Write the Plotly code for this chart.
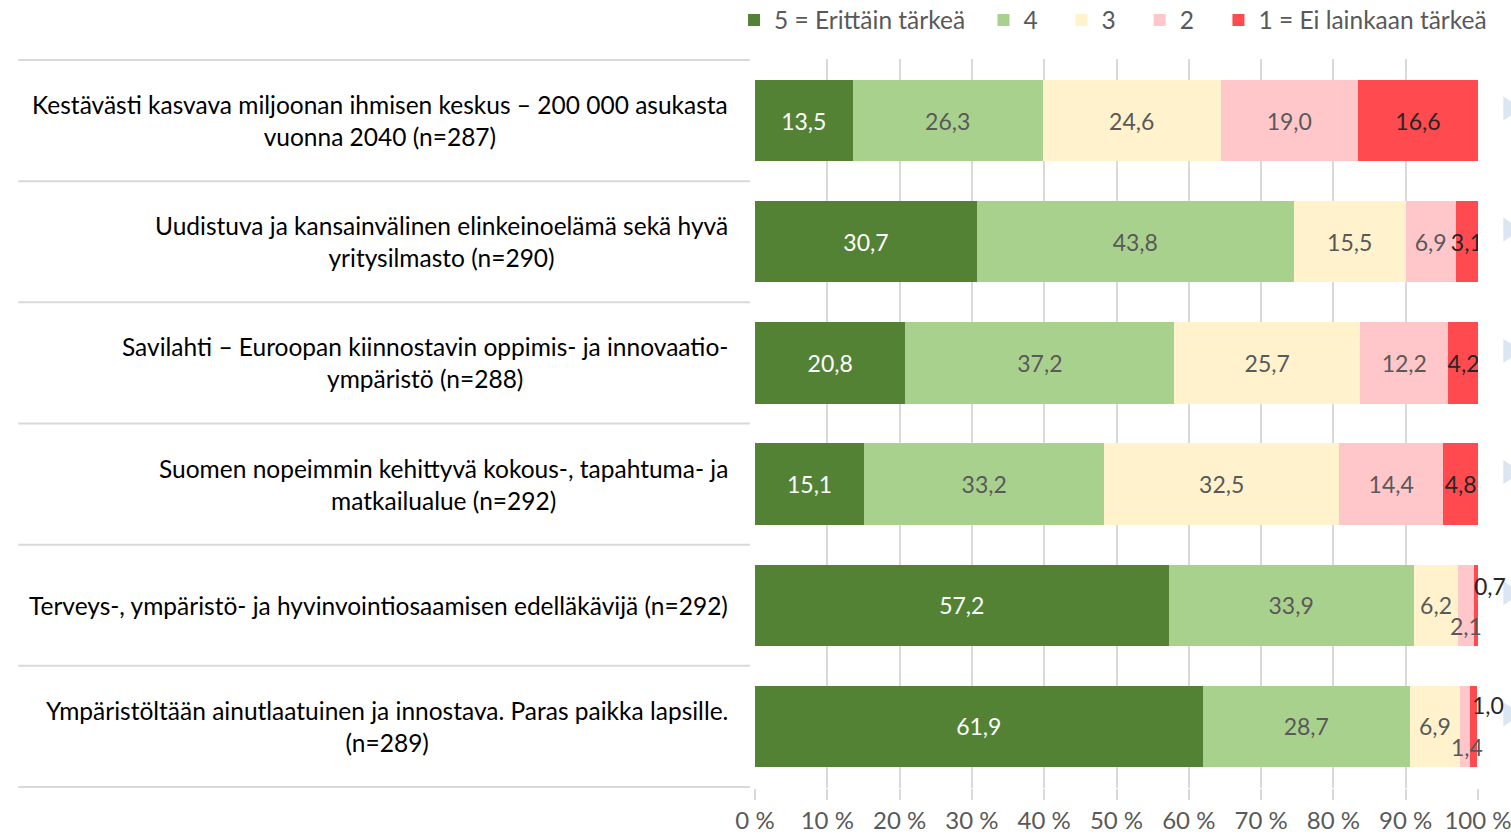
import plotly.graph_objects as go

categories = [
    "Kestävästi kasvava miljoonan ihmisen keskus – 200 000 asukasta<br>vuonna 2040 (n=287)",
    "Uudistuva ja kansainvälinen elinkeinoelämä sekä hyvä<br>yritysilmasto (n=290)",
    "Savilahti – Euroopan kiinnostavin oppimis- ja innovaatio-<br>ympäristö (n=288)",
    "Suomen nopeimmin kehittyvä kokous-, tapahtuma- ja<br>matkailualue (n=292)",
    "Terveys-, ympäristö- ja hyvinvointiosaamisen edelläkävijä (n=292)",
    "Ympäristöltään ainutlaatuinen ja innostava. Paras paikka lapsille.<br>(n=289)",
]
series_names = ["5 = Erittäin tärkeä", "4", "3", "2", "1 = Ei lainkaan tärkeä"]
v5 = [13.5, 30.7, 20.8, 15.1, 57.2, 61.9]
v4 = [26.3, 43.8, 37.2, 33.2, 33.9, 28.7]
v3 = [24.6, 15.5, 25.7, 32.5, 6.2, 6.9]
v2 = [19.0, 6.9, 12.2, 14.4, 2.1, 1.4]
v1 = [16.6, 3.1, 4.2, 4.8, 0.7, 1.0]
tick_vals = [0, 10, 20, 30, 40, 50, 60, 70, 80, 90, 100]
tick_text = ["0 %", "10 %", "20 %", "30 %", "40 %", "50 %", "60 %", "70 %", "80 %", "90 %", "100 %"]

series = [v5, v4, v3, v2, v1]
colors = ["#548235", "#A9D18E", "#FFF2CC", "#FFC7C9", "#FF4B4F"]
text_colors = ["#FFFFFF", "#595959", "#595959", "#595959", "#262626"]
legend_x = [-0.029, 0.316, 0.424, 0.532, 0.641]

FONT = "Lato, Carlito, sans-serif"

def fmt(v):
    return f"{v:.1f}".replace(".", ",")

# small segments labelled outside the bar (rows 5 and 6, series 2 and 1)
outside = {(3, 4), (3, 5), (4, 4), (4, 5)}

fig = go.Figure()
for si, (name, vals) in enumerate(zip(series_names, series)):
    texts = ["" if (si, ci) in outside else fmt(v) for ci, v in enumerate(vals)]
    fig.add_trace(go.Bar(
        y=categories, x=vals, name=name, orientation="h",
        marker=dict(color=colors[si], line=dict(width=0)),
        text=texts, textposition="inside", insidetextanchor="middle",
        textangle=0, constraintext="none",
        textfont=dict(family=FONT, size=23, color=text_colors[si]),
        hoverinfo="skip",
        legend="legend" if si == 0 else f"legend{si + 1}",
    ))

# outside labels for tiny segments
offsets = {(3, 4): (0, -21), (4, 4): (14, 19), (3, 5): (2, -21), (4, 5): (14, 21)}
for (si, ci), (dx, dy) in offsets.items():
    start = sum(series[k][ci] for k in range(si))
    center = start + series[si][ci] / 2
    fig.add_annotation(
        x=center, y=categories[ci], xref="x", yref="y",
        text=fmt(series[si][ci]), showarrow=False,
        xshift=dx, yshift=dy,
        font=dict(family=FONT, size=23, color="#595959" if si == 3 else "#262626"),
    )

# category labels on the left: block right-aligned, lines centred within
for ci, cat in enumerate(categories):
    fig.add_annotation(
        x=-0.0346, y=cat, xref="paper", yref="y", text=cat, showarrow=False,
        xanchor="right", align="center",
        font=dict(family=FONT, size=24.5, color="#000000"),
    )

# separators between categories on the left
for k in range(len(categories) + 1):
    fig.add_shape(type="line", xref="paper", yref="y",
                  x0=-1.019, x1=-0.007, y0=k - 0.5, y1=k - 0.5,
                  line=dict(color="#D9D9D9", width=2))

# faint slide-marker triangles at the right edge
for ci in range(len(categories)):
    fig.add_shape(type="path", xref="paper", yref="y",
                  path=f"M 1.035 {ci - 0.2} L 1.06 {ci - 0.1} L 1.035 {ci} Z",
                  fillcolor="#DCE6F2", line=dict(width=0))

legends = {}
for si in range(len(series_names)):
    key = "legend" if si == 0 else f"legend{si + 1}"
    legends[key] = dict(orientation="h", x=legend_x[si], xanchor="left",
                        y=1.0535, yanchor="middle", bgcolor="rgba(0,0,0,0)",
                        font=dict(family=FONT, size=24.5, color="#595959"),
                        itemwidth=30)

fig.update_layout(
    width=1511, height=834,
    barmode="stack", bargap=0.33,
    paper_bgcolor="white", plot_bgcolor="white",
    margin=dict(l=755, r=33, t=59, b=46, autoexpand=False),
    font=dict(family=FONT, size=23, color="#595959"),
    showlegend=True,
    **legends,
)
fig.update_xaxes(range=[0, 100], tickvals=tick_vals, ticktext=tick_text,
                 showgrid=True, gridcolor="#D9D9D9", gridwidth=2,
                 zeroline=False, showline=False,
                 ticks="outside", ticklen=11, tickcolor="#D9D9D9", tickwidth=2,
                 ticklabelstandoff=0, ticklabeloverflow="allow",
                 tickfont=dict(family=FONT, size=24, color="#595959"))
fig.update_yaxes(showticklabels=False, autorange="reversed", showgrid=False,
                 zeroline=False, showline=False)

fig.write_html("out.html", config={"displayModeBar": False},
               post_script="document.body.style.margin='0px';")
